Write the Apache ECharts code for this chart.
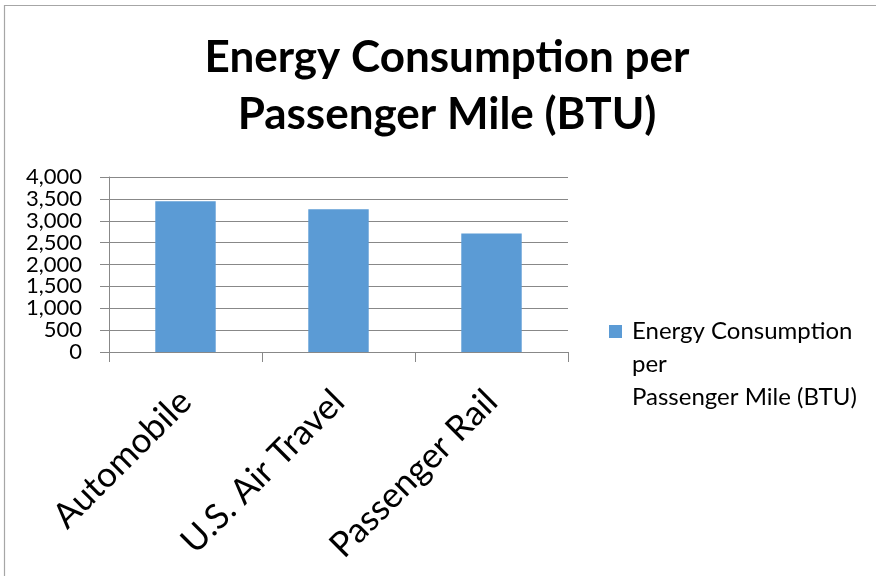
<!DOCTYPE html>
<html>
<head>
<meta charset="utf-8">
<script src="https://cdn.jsdelivr.net/npm/echarts@6/dist/echarts.min.js"></script>
<style>
html,body{margin:0;padding:0;background:#fff;}
#c{width:876px;height:576px;}
</style>
</head>
<body>
<div id="c"></div>
<script>
const titleText = "Energy Consumption per\nPassenger Mile (BTU)";
const seriesName = "Energy Consumption\nper\nPassenger Mile (BTU)";
const categories = ["Automobile", "U.S. Air Travel", "Passenger Rail"];
const values = [3445, 3264, 2709];
const yMin = 0, yMax = 4000, yStep = 500;

const FONT = "Lato, 'Open Sans', sans-serif";
const chart = echarts.init(document.getElementById('c'), null, {renderer: 'canvas'});
chart.setOption({
  backgroundColor: '#ffffff',
  animation: false,
  graphic: [{
    type: 'polyline', silent: true,
    shape: {points: [[4.5, 600], [4.5, 5.5], [900, 5.5]]},
    style: {stroke: '#a6a6a6', lineWidth: 1.2, fill: null}
  }],
  title: {
    text: titleText,
    left: 442, top: 24, textAlign: 'center',
    textStyle: {fontFamily: FONT, fontWeight: 'bold', fontSize: 44, lineHeight: 57, color: '#000'}
  },
  legend: {
    left: 604, top: 310,
    itemWidth: 18, itemHeight: 99, itemGap: 10,
    icon: 'path://M0,0h0M0,10h13v13h-13zM18,99h0',
    textStyle: {fontFamily: FONT, fontSize: 24, lineHeight: 33, color: '#000'},
    data: [seriesName]
  },
  grid: {left: 109, top: 177, width: 459, height: 175, containLabel: false},
  xAxis: {
    type: 'category', data: categories, boundaryGap: true,
    axisLine: {show: true, lineStyle: {color: '#888888', width: 1}},
    axisTick: {show: true, length: 10, alignWithLabel: false, lineStyle: {color: '#888888'}},
    axisLabel: {rotate: 45, margin: 44, fontFamily: FONT, fontSize: 35, color: '#000', interval: 0}
  },
  yAxis: {
    type: 'value', min: yMin, max: yMax, interval: yStep,
    axisLine: {show: true, lineStyle: {color: '#888888', width: 1}},
    axisTick: {show: true, length: 9, lineStyle: {color: '#888888'}},
    splitLine: {show: true, lineStyle: {color: '#888888', width: 1}},
    axisLabel: {margin: 27, fontFamily: FONT, fontSize: 22, lineHeight: 18, color: '#000',
      showMinLabel: true, showMaxLabel: true, hideOverlap: false,
      formatter: v => v.toLocaleString('en-US')}
  },
  series: [{
    name: seriesName, type: 'bar', data: values,
    barCategoryGap: '60.5%',
    itemStyle: {color: '#5b9bd5'}
  }]
});
</script>
</body>
</html>
